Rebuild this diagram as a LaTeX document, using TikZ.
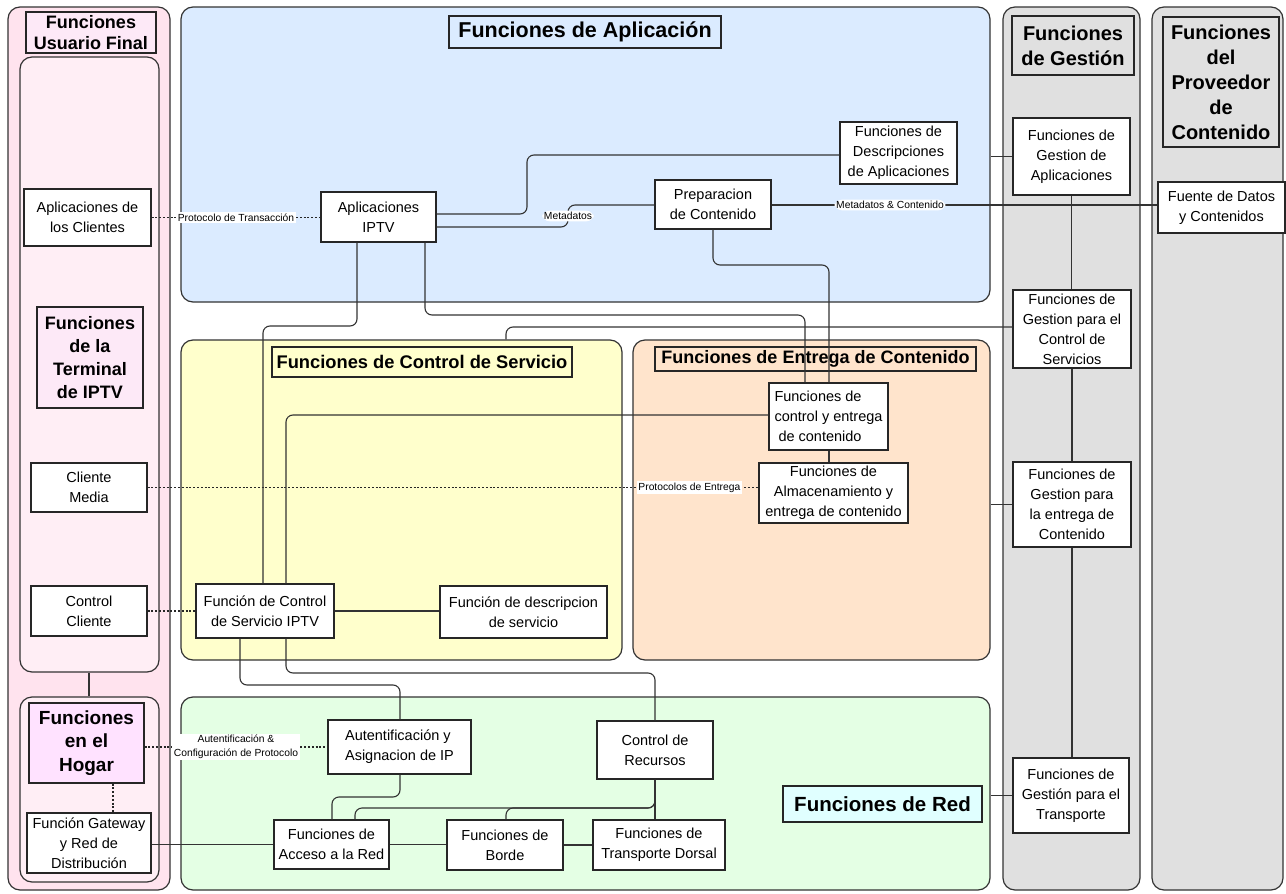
\documentclass[tikz,border=0pt]{standalone}
\usepackage{fontspec}
\setmainfont{Liberation Sans}
\begin{document}
\definecolor{cPinkOut}{HTML}{FFE3EE}
\definecolor{cPinkIn}{HTML}{FFEEF5}
\definecolor{cPinkTtl}{HTML}{FDE9F7}
\definecolor{cHogar}{HTML}{FFE2FF}
\definecolor{cBlue}{HTML}{DBEBFF}
\definecolor{cYellow}{HTML}{FFFFCC}
\definecolor{cPeach}{HTML}{FFE4CC}
\definecolor{cGreen}{HTML}{E4FFE4}
\definecolor{cGray}{HTML}{E0E0E0}
\definecolor{cCyan}{HTML}{E0FFFF}
\definecolor{cLine}{HTML}{333333}
\tikzset{
  cont/.style={draw=cLine, line width=1.2pt, rounded corners=12pt, inner sep=0pt},
  box/.style={draw=black!85, line width=1.1pt, fill=white, inner sep=0pt, align=center,
    font=\fontsize{14.5}{20}\selectfont},
  ttl/.style={draw=black!85, line width=1.1pt, inner sep=0pt, align=center,
    font=\bfseries\fontsize{18}{23}\selectfont},
  conn/.style={draw=cLine, line width=1.1pt, rounded corners=7pt},
  dotconn/.style={draw=black!85, line width=1.2pt, dash pattern=on 2pt off 1.8pt},
  lbl/.style={fill=white, inner sep=1.5pt, align=center, font=\fontsize{10.3}{14}\selectfont},
}
\begin{tikzpicture}[x=1pt, y=-1pt]
\useasboundingbox (0,0) rectangle (1286,894);

% ---- domain containers ----
\node[cont, fill=cPinkOut, minimum width=162, minimum height=883] (ufinal) at (89,448.5) {};
\node[cont, fill=cPinkIn, minimum width=139, minimum height=615] (term) at (89.5,364.5) {};
\node[cont, fill=cPinkIn, minimum width=139, minimum height=185] (hogar) at (89.5,789.5) {};
\node[cont, fill=cBlue, minimum width=809, minimum height=295] (apl) at (585.5,154.5) {};
\node[cont, fill=cYellow, minimum width=441, minimum height=320] (ctrl) at (401.5,500) {};
\node[cont, fill=cPeach, minimum width=357, minimum height=320] (ent) at (811.5,500) {};
\node[cont, fill=cGreen, minimum width=809, minimum height=193] (nred) at (585.5,793.5) {};
\node[cont, fill=cGray, minimum width=137, minimum height=883] (gest) at (1071.5,448.5) {};
\node[cont, fill=cGray, minimum width=131, minimum height=883] (prov) at (1217.5,448.5) {};

% ---- domain titles ----
\node[ttl, fill=cPinkTtl, minimum width=130, minimum height=41, font=\bfseries\fontsize{18}{21}\selectfont] (tUF) at (91,32.5) {Funciones\\Usuario Final};
\node[ttl, fill=cPinkTtl, minimum width=106, minimum height=101] (tTerm) at (90,357.5) {Funciones\\de la\\Terminal\\de IPTV};
\node[ttl, fill=cHogar, minimum width=115, minimum height=80, font=\bfseries\fontsize{19}{23.5}\selectfont] (tHogar) at (86.5,743) {Funciones\\en el\\Hogar};
\node[ttl, fill=cBlue, minimum width=272, minimum height=32, font=\bfseries\fontsize{21.5}{25}\selectfont] (tApl) at (585,32) {Funciones de Aplicación};
\node[ttl, fill=cYellow, minimum width=300, minimum height=30, font=\bfseries\fontsize{18.3}{22}\selectfont] (tCtrl) at (422,362) {Funciones de Control de Servicio};
\node[ttl, fill=cPeach, minimum width=321, minimum height=24, font=\bfseries\fontsize{18}{22}\selectfont] (tEnt) at (815.5,359) {Funciones de Entrega de Contenido};
\node[ttl, fill=cCyan, minimum width=199, minimum height=36, font=\bfseries\fontsize{20.5}{24}\selectfont] (tRed) at (882.5,804) {Funciones de Red};
\node[ttl, fill=cGray, minimum width=122, minimum height=59, font=\bfseries\fontsize{20}{25}\selectfont] (tGest) at (1073,45.5) {Funciones\\de Gestión};
\node[ttl, fill=cGray, minimum width=116, minimum height=130, font=\bfseries\fontsize{20}{25}\selectfont] (tProv) at (1221,82) {Funciones\\del\\Proveedor\\de\\Contenido};

% ---- functional blocks ----
\node[box, minimum width=127, minimum height=57] (aplCli) at (87.5,217.5) {Aplicaciones de\\los Clientes};
\node[box, minimum width=116, minimum height=49] (cliMedia) at (89,487.5) {Cliente\\Media};
\node[box, minimum width=116, minimum height=50] (ctrlCli) at (89,611) {Control\\Cliente};
\node[box, minimum width=124, minimum height=60] (gateway) at (89,843) {Función Gateway\\y Red de\\Distribución};
\node[box, minimum width=115, minimum height=50] (iptv) at (378.5,217) {Aplicaciones\\IPTV};
\node[box, minimum width=116, minimum height=49] (prep) at (713,204.5) {Preparacion\\de Contenido};
\node[box, minimum width=117, minimum height=62] (desc) at (898.5,153) {Funciones de\\Descripciones\\de Aplicaciones};
\node[box, minimum width=117, minimum height=77] (gApl) at (1071.5,156.5) {Funciones de\\Gestion de\\Aplicaciones};
\node[box, minimum width=127, minimum height=51] (fuente) at (1221.5,207.5) {Fuente de Datos\\y Contenidos};
\node[box, minimum width=118, minimum height=78] (gCtrl) at (1072,329) {Funciones de\\Gestion para el\\Control de\\Servicios};
\node[box, minimum width=118, minimum height=85] (gEnt) at (1072,504.5) {Funciones de\\Gestion para\\la entrega de\\Contenido};
\node[box, minimum width=116, minimum height=75] (gTrans) at (1071,795.5) {Funciones de\\Gestión para el\\Transporte};
\node[box, minimum width=119, minimum height=67, align=left] (ctlEnt) at (828.5,416.5) {Funciones de\\control y entrega\\\ de contenido};
\node[box, minimum width=149, minimum height=60] (almac) at (833.5,493) {Funciones de\\Almacenamiento y\\entrega de contenido};
\node[box, minimum width=138, minimum height=54] (fcsIPTV) at (265,611) {Función de Control\\de Servicio IPTV};
\node[box, minimum width=167, minimum height=52] (fdesc) at (523.5,612) {Función de descripcion\\de servicio};
\node[box, minimum width=143, minimum height=54, align=left] (auth) at (399.5,747) {Autentificación y\\Asignacion de IP};
\node[box, minimum width=116, minimum height=58] (recursos) at (655,750) {Control de\\Recursos};
\node[box, minimum width=115, minimum height=49] (acceso) at (331.5,844.5) {Funciones de\\Acceso a la Red};
\node[box, minimum width=116, minimum height=50] (borde) at (505,845) {Funciones de\\Borde};
\node[box, minimum width=132, minimum height=50] (dorsal) at (659,845) {Funciones de\\Transporte Dorsal};

% ---- end-user side links ----
\draw[conn] (term.south -| 89,0) -- (hogar.north -| 89,0);
\draw[dotconn] (tHogar.south -| 113,0) -- (gateway.north -| 113,0);
\draw[dotconn] (aplCli.east) -- node[lbl]{Protocolo de Transacción} (aplCli.east -| iptv.west);
\draw[dotconn] (cliMedia.east) -- node[lbl, pos=0.887]{Protocolos de Entrega} (cliMedia.east -| almac.west);
\draw[dotconn] (ctrlCli.east) -- (ctrlCli.east -| fcsIPTV.west);
\draw[dotconn] (auth.west -| tHogar.east) -- node[lbl]{Autentificación \&\\Configuración de Protocolo} (auth.west);

% ---- application functions ----
\draw[conn] (iptv.east |- 0,214) -- (527,214) -- (527,155) -- (desc.west |- 0,155);
\draw[conn] (iptv.east |- 0,227) -- (568,227) -- node[lbl]{Metadatos} (568,205) -- (prep.west |- 0,205);
\draw[conn] (prep.east |- 0,205) -- node[lbl, pos=0.307]{Metadatos \& Contenido} (fuente.west |- 0,205);
\draw[conn] (prep.south) -- (713,265) -- (829,265) -- (ctlEnt.north -| 829,0);
\draw[conn] (iptv.south -| 425,0) -- (425,315) -- (805,315) -- (ctlEnt.north -| 805,0);
\draw[conn] (iptv.south -| 357,0) -- (357,326) -- (263,326) -- (fcsIPTV.north -| 263,0);

% ---- service control and content delivery ----
\draw[conn] (gCtrl.west |- 0,327) -- (506,327) -- (ctrl.north -| 506,0);
\draw[conn] (fcsIPTV.north -| 286,0) -- (286,415) -- (ctlEnt.west |- 0,415);
\draw[conn] (ctlEnt.south -| 829,0) -- (almac.north -| 829,0);
\draw[conn] (fcsIPTV.east) -- (fcsIPTV.east -| fdesc.west);

% ---- network functions ----
\draw[conn] (fcsIPTV.south -| 240,0) -- (240,685) -- (400,685) -- (auth.north -| 400,0);
\draw[conn] (fcsIPTV.south -| 286,0) -- (286,673) -- (655,673) -- (recursos.north);
\draw[conn] (auth.south -| 400,0) -- (400,797) -- (332,797) -- (acceso.north -| 332,0);
\draw[conn] (recursos.south) -- (655,808) -- (355,808) -- (acceso.north -| 355,0);
\draw[conn] (borde.north -| 506,0) -- (506,808) -- (655,808) -- (recursos.south);
\draw[conn] (recursos.south) -- (recursos.south |- dorsal.north);
\draw[conn] (gateway.east |- acceso.west) -- (acceso.west);
\draw[conn] (acceso.east) -- (acceso.east -| borde.west);
\draw[conn] (borde.east) -- (borde.east -| dorsal.west);

% ---- management functions ----
\draw[conn] (gApl.west) -- (gApl.west -| apl.east);
\draw[conn] (gEnt.west) -- (gEnt.west -| ent.east);
\draw[conn] (gTrans.west) -- (gTrans.west -| nred.east);
\draw[conn] (gApl.south) -- (gApl.south |- gCtrl.north);
\draw[conn] (gCtrl.south) -- (gCtrl.south |- gEnt.north);
\draw[conn] (gEnt.south) -- (gEnt.south |- gTrans.north);
\end{tikzpicture}
\end{document}
